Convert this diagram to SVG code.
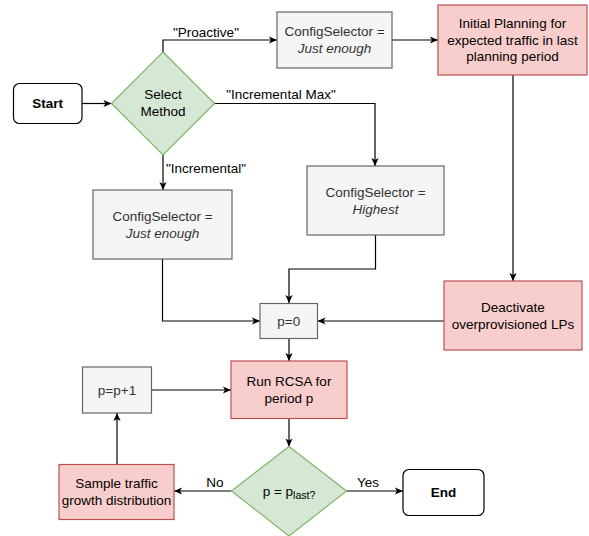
<svg xmlns="http://www.w3.org/2000/svg" width="589" height="536" viewBox="0 0 589 536">
<defs>
<marker id="arr" viewBox="0 0 10 10" markerWidth="9" markerHeight="9" refX="9.5" refY="5" orient="auto" markerUnits="userSpaceOnUse">
<path d="M0.5,1 L9.5,5 L0.5,9 L2.8,5 Z" fill="#000"/>
</marker>
<style>
text{font-family:"Liberation Sans",Arial,sans-serif;font-size:13.5px;text-anchor:middle;fill:#000}
.grey rect{fill:#f5f5f5;stroke:#666666;stroke-width:1.2}
.grey text{fill:#333333}
.red rect{fill:#f8cecc;stroke:#b85450;stroke-width:1.2}
.green polygon{fill:#d5e8d4;stroke:#82b366;stroke-width:1.2}
.term rect{fill:#ffffff;stroke:#000000;stroke-width:1.2}
.term text{font-weight:bold}
.it{font-style:italic}
#connectors path{fill:none;stroke:#000;stroke-width:1.2;marker-end:url(#arr)}
.lbl{font-size:13.5px}
</style>
</defs>
<rect width="589" height="536" fill="#ffffff"/>

<g id="connectors">
<path d="M82,103.5 H111.5"/>
<path d="M163,52 V40 H277"/>
<path d="M392,40 H438"/>
<path d="M214,103.5 H375 V166"/>
<path d="M163,155 V190"/>
<path d="M513,75 V281"/>
<path d="M162.5,259 V321 H260"/>
<path d="M375.5,235 V269 H289 V303"/>
<path d="M444,321 H317.5"/>
<path d="M289,338.5 V361"/>
<path d="M289,418.5 V446.5"/>
<path d="M346.5,491 H403"/>
<path d="M231.5,491 H174"/>
<path d="M117,464 V413"/>
<path d="M151.5,390 H231"/>
<text class="lbl" x="206" y="37">"Proactive"</text>
<text class="lbl" x="281" y="98.5">"Incremental Max"</text>
<text class="lbl" x="206" y="173">"Incremental"</text>
<text class="lbl" x="215" y="486.5">No</text>
<text class="lbl" x="368" y="486.5">Yes</text>
</g>

<g id="start" class="term">
<rect x="13.5" y="83.5" width="68.5" height="40" rx="6" ry="6"/>
<text x="47.7" y="108.2">Start</text>
</g>

<g id="select-method" class="green">
<polygon points="163,52 214.5,103.5 163,155 111.5,103.5"/>
<text x="163" y="99">Select</text>
<text x="163" y="116.4">Method</text>
</g>

<g id="config-proactive" class="grey">
<rect x="277" y="12" width="115" height="56"/>
<text x="334.5" y="36.4">ConfigSelector =</text>
<text x="334.5" y="53" class="it">Just enough</text>
</g>

<g id="initial-planning" class="red">
<rect x="438" y="5" width="149" height="70"/>
<text x="512.5" y="28">Initial Planning for</text>
<text x="512.5" y="44.7">expected traffic in last</text>
<text x="512.5" y="61.4">planning period</text>
</g>

<g id="config-highest" class="grey">
<rect x="307" y="166" width="137" height="69"/>
<text x="375.5" y="197">ConfigSelector =</text>
<text x="375.5" y="214" class="it">Highest</text>
</g>

<g id="config-incremental" class="grey">
<rect x="93" y="190" width="139" height="69"/>
<text x="162.5" y="220.7">ConfigSelector =</text>
<text x="162.5" y="237.7" class="it">Just enough</text>
</g>

<g id="p0" class="grey">
<rect x="260" y="303.5" width="57.5" height="35"/>
<text x="288.7" y="325.7">p=0</text>
</g>

<g id="deactivate" class="red">
<rect x="444" y="281" width="138" height="69"/>
<text x="513" y="311.7">Deactivate</text>
<text x="513" y="328.7">overprovisioned LPs</text>
</g>

<g id="run-rcsa" class="red">
<rect x="231" y="361" width="116" height="57.5"/>
<text x="289" y="385.7">Run RCSA for</text>
<text x="289" y="402.7">period p</text>
</g>

<g id="p-inc" class="grey">
<rect x="82.5" y="367" width="69" height="46"/>
<text x="117" y="394.7">p=p+1</text>
</g>

<g id="decision-last" class="green">
<polygon points="289,446.5 346.5,491 289,536 231.5,491"/>
<text x="289" y="496"><tspan>p = p</tspan><tspan font-size="10.5px" dy="3">last?</tspan></text>
</g>

<g id="sample" class="red">
<rect x="59" y="464.5" width="115" height="55"/>
<text x="116.5" y="487.7">Sample traffic</text>
<text x="116.5" y="504.7">growth distribution</text>
</g>

<g id="end" class="term">
<rect x="403" y="469.5" width="81" height="46" rx="6" ry="6"/>
<text x="443.5" y="497">End</text>
</g>
</svg>
